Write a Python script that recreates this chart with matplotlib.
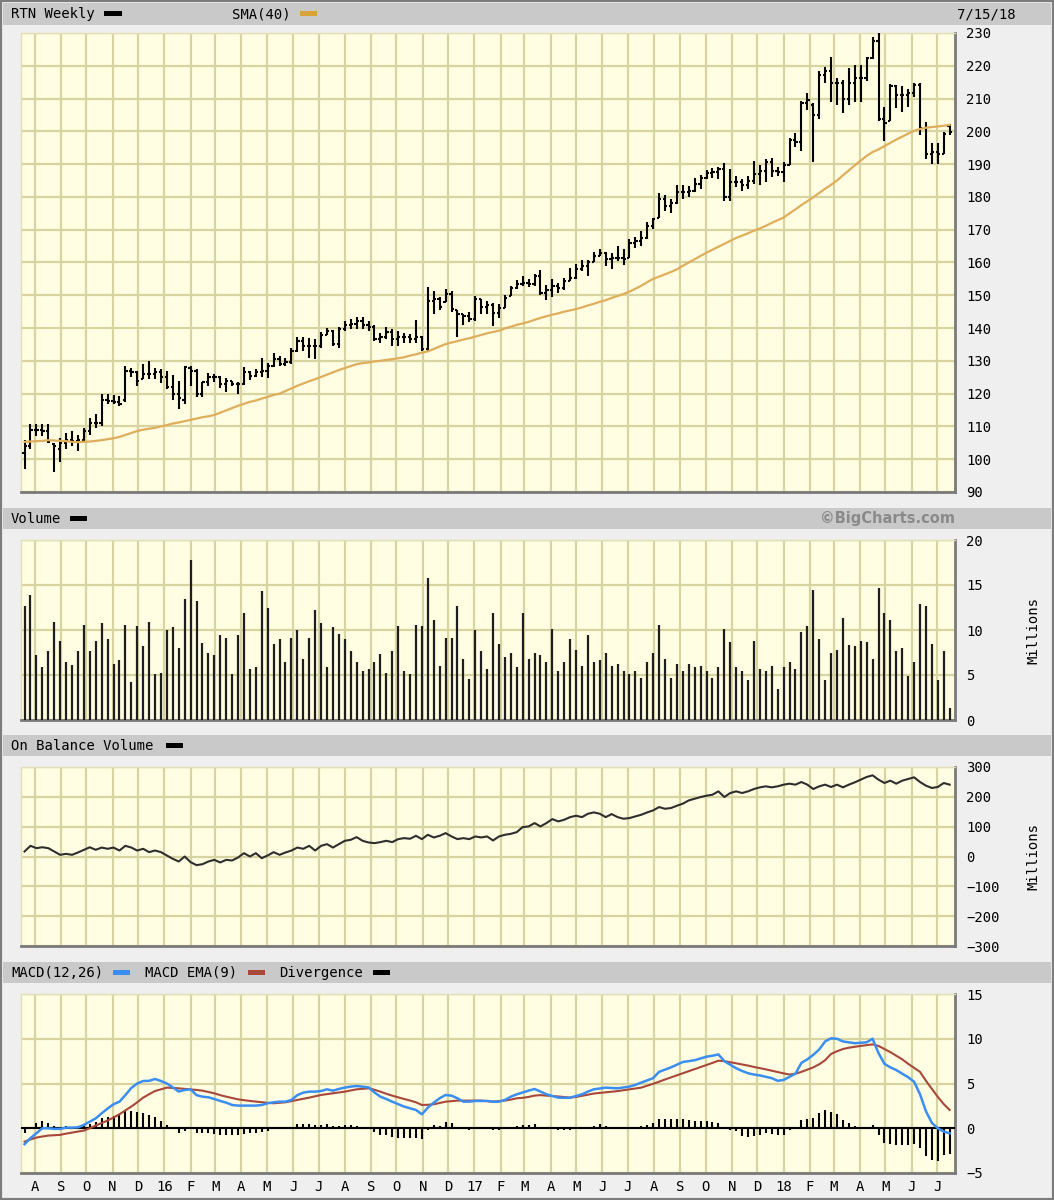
import numpy as np
import pandas as pd
import matplotlib
matplotlib.use("Agg")
import matplotlib.pyplot as plt
import matplotlib.dates as mdates
from matplotlib.collections import LineCollection
from matplotlib.patches import Rectangle

plt.rcParams['font.family'] = ['DejaVu Sans Mono', 'DejaVu Sans']

# weekly bars, week of 2015-07-20 .. week of 2018-07-09
weeks = pd.date_range("2015-07-20", periods=157, freq="7D")

price_open = [
    102, 104, 109, 108.8, 108.5, 104.5, 103, 105, 106, 105.5,
    105.8, 108.6, 111, 111, 118, 117.8, 117.5, 118, 127, 126.5,
    124.6, 126, 126, 126.5, 125, 122, 120, 118, 127.8, 126.8,
    120, 123.4, 125, 125, 123, 123.9, 123, 123, 126.5, 125.5,
    126.5, 127, 128.5, 130.5, 129, 129.5, 133, 136.2, 134.6, 134.6,
    134.6, 138, 139.2, 135.2, 139.8, 140.8, 141.3, 142.3, 140.8, 140.3,
    136.7, 137.2, 138.7, 136.7, 137.2, 137.2, 136.7, 137.2, 133.6, 148.4,
    149, 148, 150.5, 145.4, 144.4, 143.8, 142.8, 149, 146.4, 146.9,
    144.6, 146, 149.7, 152.2, 153.3, 153.8, 153.3, 155.8, 150.7, 151.7,
    152.8, 152.2, 154.3, 155.3, 157.9, 158.9, 160, 162, 163, 161,
    161.5, 161.5, 161.5, 166.1, 166.6, 167.6, 171.2, 173.7, 179.4, 177.3,
    178.3, 181.4, 181.4, 181.9, 184, 185.7, 187.2, 187.5, 188.6, 179.9,
    184.5, 184.5, 183.5, 185, 187, 188, 190.8, 188, 187.6, 189.8,
    197.3, 196.8, 208.5, 208, 205, 217.2, 218.3, 214.7, 214.7, 210,
    214.7, 216.2, 216.2, 222.4, 227.5, 203.9, 203.1, 213.7, 211.1, 211.1,
    211.6, 214.2, 200.9, 193.2, 193.7, 193.2, 201.5]
price_high = [
    106, 110.8, 110.8, 110.8, 110.8, 105, 106.5, 108, 108.6, 107.5,
    109.4, 112.7, 113.7, 120, 120, 119.6, 119.3, 128.3, 127.8, 126.8,
    129, 130, 127.8, 127.5, 127, 125.7, 124, 128.3, 128.3, 127.5,
    123.7, 126.3, 126, 125.4, 124.7, 124, 123.7, 128, 126.8, 127.5,
    131, 129.2, 132.3, 131.6, 131, 134, 137.2, 137.2, 137, 136.7,
    138.7, 140, 139.5, 140.4, 142.3, 142.8, 143.3, 143.3, 142.3, 141,
    138.5, 140.3, 139.8, 139.2, 138.4, 138.2, 142.5, 137.7, 152.5, 151.2,
    149.5, 152, 151.2, 145.4, 144.4, 144.9, 149.8, 149, 148.4, 147.6,
    147.4, 150, 152.8, 154.8, 156, 155, 156.6, 157.6, 153, 155,
    153.6, 155.3, 158.4, 159.4, 160.9, 160.9, 163.2, 164.2, 163.2, 163,
    165, 164, 167.1, 167.9, 169.6, 172.4, 173.7, 181.1, 180.7, 179.4,
    183.5, 183.7, 183.2, 185.7, 186.8, 188.1, 188.8, 189.1, 190.4, 188.6,
    186.5, 185.5, 186.5, 191.1, 189.8, 191.6, 192, 189.1, 190.6, 198.1,
    199.5, 209.3, 211.8, 208.5, 218.3, 219.5, 222.7, 216.2, 215.7, 219.3,
    220.3, 220.1, 222.8, 228.8, 229.9, 207.3, 214.4, 214, 213.7, 213,
    214.7, 214.7, 202.9, 196.6, 196.6, 199.8, 202.1]
price_low = [
    97, 103, 107, 107, 105, 96, 99, 103, 104, 102.5,
    105, 107.5, 109.6, 110, 116.8, 116.8, 116.2, 117.6, 125, 122.2,
    124.6, 124.4, 124.6, 123.2, 121.3, 118, 115.4, 116.7, 122.4, 119,
    119, 122.4, 123.4, 121.6, 120.6, 122.2, 120, 122.6, 124.1, 125,
    125, 124.8, 128, 128.3, 128.3, 129, 132.6, 133, 131, 130.5,
    133.8, 138, 134.4, 134, 139.2, 139.8, 139.8, 139.8, 139.2, 136.2,
    135.4, 136.7, 134.4, 134.6, 135.4, 135.4, 135.5, 133.1, 133.1, 144.2,
    145.4, 148, 145, 137.4, 141, 141.8, 142.3, 144.4, 144.4, 140.7,
    143, 146, 149.7, 152, 152.8, 152.5, 152.8, 150.2, 148.7, 149.5,
    150.7, 151.7, 154.3, 155, 157.4, 155.8, 160, 162, 158.9, 157.9,
    160.4, 159.1, 161.5, 164.5, 165, 167.1, 170.2, 173.7, 175.8, 175.1,
    177.8, 179.4, 179.9, 181.4, 182.4, 185.5, 185.7, 185.5, 178.9, 178.9,
    183, 181.9, 182.4, 184, 183.5, 184.7, 186, 186.5, 184.7, 189.8,
    195.2, 193.9, 206.5, 190.6, 203.9, 214.7, 209, 208, 205.5, 208,
    209, 209, 215.4, 222, 203.3, 197, 203.1, 207.2, 206, 207.5,
    210.6, 199, 191.6, 190.1, 190.1, 193.2, 199]
price_close = [
    104, 109, 108.8, 108.5, 105.3, 104, 105, 106, 105.5, 105.8,
    108.6, 111, 111, 118, 117.8, 117.5, 116.7, 127, 126.5, 124,
    126, 126, 126.5, 125, 121.9, 119.8, 118.8, 128, 126.8, 120,
    123.4, 125, 125, 123, 123.9, 123, 122.9, 126.5, 125.5, 126.5,
    127, 128.5, 130.5, 129, 129.5, 133, 136.2, 134.6, 134.6, 134.6,
    138, 139.2, 135.2, 139.8, 140.8, 141.3, 142.3, 140.8, 140.3, 136.7,
    137.2, 138.7, 136.7, 137.2, 137.2, 136.7, 137.2, 133.6, 148.4, 149,
    146.4, 150.5, 145.9, 144.4, 143.8, 142.8, 149, 146.4, 146.9, 144.6,
    146, 149.2, 152.2, 153.3, 153.8, 153.3, 155.8, 150.7, 151.7, 152.8,
    152.2, 154.3, 155.3, 157.9, 158.9, 160, 162, 163, 161, 161.5,
    161.5, 161, 166.1, 166.6, 167.6, 171.2, 173.2, 179.4, 177.3, 178.3,
    181.4, 181.4, 181.9, 184, 185.7, 187.2, 187.5, 188.6, 179.9, 184.5,
    184.5, 183.5, 185, 187, 188, 190.8, 188, 187.6, 189.6, 197.3,
    196.8, 208.5, 209.6, 205, 217.2, 218.3, 214.7, 214.7, 210, 214.7,
    216.2, 216.2, 222.4, 227.5, 203.9, 202.4, 213.7, 211.1, 211.1, 211.6,
    214.2, 200.9, 193.2, 193.7, 193.2, 199.3, 199.8]
sma40 = [
    105.3, 105.4, 105.5, 105.6, 105.8, 105.7, 105.6, 105.5, 105.3, 105.2,
    105.3, 105.4, 105.6, 105.8, 106.1, 106.4, 106.8, 107.4, 108.0, 108.6,
    109.0, 109.3, 109.6, 110.0, 110.4, 110.9, 111.2, 111.6, 112.0, 112.4,
    112.8, 113.1, 113.5, 114.2, 114.9, 115.6, 116.3, 116.9, 117.5, 117.9,
    118.5, 119.0, 119.6, 120.0, 120.8, 121.6, 122.4, 123.1, 123.8, 124.4,
    125.1, 125.8, 126.5, 127.2, 127.8, 128.4, 129.0, 129.3, 129.5, 129.8,
    130.0, 130.3, 130.5, 130.8, 131.1, 131.6, 132.0, 132.5, 132.9, 133.6,
    134.4, 135.1, 135.6, 136.0, 136.5, 136.9, 137.4, 137.9, 138.4, 138.8,
    139.2, 139.9, 140.4, 141.0, 141.4, 141.9, 142.5, 143.1, 143.6, 144.1,
    144.5, 145.0, 145.4, 145.8, 146.3, 146.9, 147.4, 148.0, 148.5, 149.2,
    149.8, 150.4, 151.1, 152.0, 152.9, 154.0, 155.0, 155.7, 156.4, 157.1,
    157.9, 159.0, 160.0, 161.0, 162.0, 163.0, 163.9, 164.8, 165.7, 166.6,
    167.5, 168.2, 168.9, 169.7, 170.4, 171.2, 172.1, 172.9, 173.7, 175.0,
    176.2, 177.5, 178.7, 179.9, 181.2, 182.5, 183.7, 185.0, 186.6, 188.1,
    189.6, 191.1, 192.5, 193.7, 194.5, 195.5, 196.5, 197.5, 198.4, 199.3,
    200.2, 200.7, 201.1, 201.3, 201.5, 201.7, 202.0]
volume = [  # millions
    12.7, 13.9, 7.2, 5.9, 7.7, 10.9, 8.8, 6.4, 6.1, 7.7,
    10.6, 7.7, 8.8, 10.8, 9.0, 6.2, 6.7, 10.6, 4.2, 10.4,
    8.2, 10.9, 5.1, 5.2, 10.0, 10.3, 8.0, 13.4, 17.8, 13.2,
    8.6, 7.5, 7.2, 9.5, 9.1, 5.1, 9.5, 11.9, 5.7, 5.9,
    14.3, 12.4, 8.5, 9.0, 6.4, 9.1, 10.0, 6.8, 9.1, 12.2,
    10.8, 5.9, 10.3, 9.6, 9.0, 7.7, 6.5, 5.5, 5.7, 6.5,
    7.3, 5.2, 7.7, 10.4, 5.5, 5.1, 10.6, 10.4, 15.8, 11.1,
    6.0, 9.1, 9.1, 12.7, 6.8, 4.6, 10.0, 7.7, 5.7, 11.9,
    8.5, 7.0, 7.5, 5.9, 11.9, 6.8, 7.4, 7.2, 6.4, 10.1,
    5.4, 6.4, 9.0, 7.8, 6.0, 9.5, 6.4, 6.7, 7.4, 6.0,
    6.2, 5.5, 5.1, 5.5, 4.7, 6.5, 7.5, 10.6, 6.8, 4.7,
    6.2, 5.4, 6.2, 5.9, 6.0, 5.5, 4.7, 5.9, 10.1, 8.7,
    5.9, 5.4, 4.4, 8.8, 5.7, 5.5, 6.0, 3.4, 5.9, 6.4,
    5.7, 9.8, 10.4, 14.5, 9.0, 4.4, 7.5, 7.8, 11.3, 8.3,
    8.2, 8.8, 8.7, 6.8, 14.7, 11.9, 11.1, 7.7, 8.0, 4.9,
    6.4, 12.9, 12.7, 8.5, 4.4, 7.7, 1.3]
obv = [  # millions
    16.8, 35.8, 28, 31, 28, 16.8, 5.6, 9, 5.6, 13.4,
    22.4, 31, 22.4, 30, 25.8, 30, 20, 35.8, 30, 20,
    25.8, 14.6, 20, 14.6, 3.4, -7.8, -16.8, 0, -19, -29,
    -25.8, -16.8, -11.2, -20, -11.2, -13.4, -3.4, 11.2, 0, 11.2,
    -5.6, 3.4, 14.6, 5.6, 13.4, 20, 30, 25.8, 35.8, 20,
    35.8, 41.4, 30, 41.4, 52.6, 56, 65, 52.6, 47, 44.8,
    48.2, 52.6, 48.2, 58.2, 61.6, 59.4, 69.4, 58.2, 72.8, 63.8,
    69.4, 78.4, 67.2, 58.2, 61.6, 58.2, 67.2, 63.8, 67.2, 53.8,
    67.2, 72.8, 76, 81.7, 98.5, 100.8, 112, 100.8, 112, 125.4,
    117.6, 123.2, 132, 136.6, 132, 143.3, 147.8, 143.3, 132, 142.2,
    132, 126.5, 128.8, 134.4, 140, 147.8, 154.5, 165.7, 160, 162.4,
    170.2, 177, 188, 193.7, 199.3, 203.8, 207.2, 218.4, 199.3, 212.8,
    218.4, 212.8, 218.4, 226.2, 231.8, 235.2, 231.8, 235.2, 240.8, 244.1,
    240.8, 249.7, 240.8, 226.2, 235.2, 240.8, 233, 240.8, 231.8, 240.8,
    248.6, 257.6, 266.5, 272.1, 257.6, 246.4, 254.2, 244.1, 254.2, 259.8,
    265.4, 249.7, 237.4, 229.6, 233, 246.4, 240.8]
macd = [
    -1.78, -1.1, -0.56, 0, 0, -0.07, -0.07, 0.07, 0.07, 0.1,
    0.37, 0.74, 1.1, 1.67, 2.2, 2.68, 2.97, 3.7, 4.5, 5.0,
    5.28, 5.3, 5.5, 5.28, 5.0, 4.57, 4.1, 4.28, 4.35, 3.7,
    3.53, 3.46, 3.27, 3.05, 2.86, 2.6, 2.53, 2.53, 2.53, 2.53,
    2.6, 2.79, 2.9, 2.97, 2.97, 3.16, 3.7, 3.98, 4.09, 4.09,
    4.16, 4.35, 4.2, 4.39, 4.54, 4.65, 4.72, 4.65, 4.57, 4.0,
    3.53, 3.27, 2.97, 2.7, 2.42, 2.23, 2.04, 1.56, 2.3, 2.86,
    3.35, 3.72, 3.64, 3.35, 2.97, 2.97, 3.05, 3.05, 3.05, 2.97,
    2.97, 3.16, 3.53, 3.79, 4.0, 4.2, 4.39, 4.1, 3.8, 3.6,
    3.42, 3.4, 3.42, 3.6, 3.79, 4.1, 4.35, 4.45, 4.54, 4.5,
    4.46, 4.55, 4.65, 4.85, 5.1, 5.35, 5.6, 6.3, 6.55, 6.8,
    7.1, 7.4, 7.5, 7.6, 7.8, 8.0, 8.1, 8.25, 7.5, 7.1,
    6.7, 6.4, 6.15, 6.0, 5.9, 5.75, 5.6, 5.3, 5.4, 5.75,
    6.1, 7.3, 7.7, 8.2, 8.8, 9.7, 10.05, 10.0, 9.7, 9.6,
    9.5, 9.55, 9.6, 10.0, 8.4, 7.2, 6.8, 6.5, 6.1, 5.7,
    5.2, 3.8, 1.9, 0.6, 0.0, -0.37, -0.56]
macd_ema = [
    -1.49, -1.25, -1.04, -0.92, -0.82, -0.78, -0.74, -0.6, -0.48, -0.37,
    -0.26, 0.0, 0.3, 0.58, 0.86, 1.2, 1.56, 2.0, 2.42, 2.9,
    3.42, 3.8, 4.16, 4.35, 4.54, 4.5, 4.46, 4.4, 4.35, 4.28,
    4.2, 4.05, 3.9, 3.7, 3.53, 3.38, 3.23, 3.14, 3.05, 2.98,
    2.9, 2.84, 2.79, 2.84, 2.9, 3.03, 3.16, 3.3, 3.42, 3.57,
    3.72, 3.81, 3.9, 4.0, 4.09, 4.22, 4.35, 4.4, 4.46, 4.3,
    4.09, 3.85, 3.64, 3.45, 3.27, 3.1, 2.9, 2.6, 2.62, 2.68,
    2.83, 2.97, 3.03, 3.09, 3.09, 3.09, 3.09, 3.09, 3.03, 2.97,
    3.03, 3.09, 3.2, 3.35, 3.4, 3.5, 3.65, 3.7, 3.65, 3.6,
    3.55, 3.48, 3.42, 3.5, 3.62, 3.75, 3.88, 3.95, 4.02, 4.09,
    4.15, 4.25, 4.35, 4.45, 4.54, 4.75, 4.97, 5.2, 5.45, 5.68,
    5.9, 6.13, 6.37, 6.6, 6.83, 7.06, 7.3, 7.55, 7.5, 7.38,
    7.25, 7.13, 7.0, 6.85, 6.72, 6.58, 6.43, 6.28, 6.13, 6.0,
    6.1, 6.3, 6.55, 6.8, 7.15, 7.6, 8.3, 8.6, 8.85, 9.0,
    9.1, 9.2, 9.28, 9.37, 9.2, 8.85, 8.5, 8.1, 7.7, 7.2,
    6.75, 6.3, 5.3, 4.4, 3.5, 2.7, 2.04]
divergence = [
    -0.56, 0.1, 0.56, 0.82, 0.63, 0.3, 0.19, 0.3, 0.19, 0.3,
    0.37, 0.48, 0.74, 1.1, 1.3, 1.37, 1.56, 1.93, 1.97, 1.86,
    1.67, 1.49, 1.23, 0.86, 0.37, 0.0, -0.56, -0.3, -0.05, -0.56,
    -0.56, -0.56, -0.63, -0.74, -0.74, -0.74, -0.74, -0.63, -0.56, -0.48,
    -0.37, -0.26, 0.05, 0.05, 0.05, 0.19, 0.48, 0.52, 0.48, 0.37,
    0.37, 0.48, 0.26, 0.26, 0.37, 0.37, 0.3, 0.19, 0.05, -0.37,
    -0.74, -0.74, -0.93, -1.1, -1.04, -1.04, -1.04, -1.23, -0.19, 0.37,
    0.26, 0.67, 0.56, 0.05, 0.05, -0.19, 0.0, 0.0, 0.0, -0.19,
    -0.15, 0.05, 0.19, 0.3, 0.37, 0.37, 0.48, 0.19, 0.0, -0.1,
    -0.19, -0.19, -0.19, 0.0, 0.1, 0.19, 0.3, 0.48, 0.3, 0.19,
    0.05, 0.05, 0.05, 0.19, 0.3, 0.37, 0.56, 1.0, 1.0, 1.0,
    1.0, 1.04, 0.93, 0.86, 0.86, 0.82, 0.74, 0.56, 0.05, -0.19,
    -0.3, -0.82, -0.93, -0.9, -0.74, -0.56, -0.63, -0.74, -0.74, -0.19,
    0.0, 0.93, 1.0, 1.1, 1.67, 2.0, 1.8, 1.6, 0.93, 0.63,
    0.3, 0.0, 0.19, 0.37, -0.7, -1.67, -1.78, -1.86, -1.86, -1.9,
    -1.8, -2.2, -3.1, -3.6, -3.7, -3.0, -2.9]

for name, arr in [("open", price_open), ("high", price_high), ("low", price_low),
                  ("close", price_close), ("sma", sma40), ("vol", volume), ("obv", obv),
                  ("macd", macd), ("ema", macd_ema), ("div", divergence)]:
    if len(arr) != len(weeks):
        print(name, len(arr))

W, H = 1054, 1200
bg = '#efefef'
plot_bg = '#fffee2'
grid_c = '#d8d4a2'
head_c = '#c9c9c9'

fig = plt.figure(figsize=(W / 100, H / 100), dpi=100, facecolor=bg)


def box(x0, y0, x1, y1):
    return [x0 / W, 1 - y1 / H, (x1 - x0) / W, (y1 - y0) / H]


def fig_rect(x0, y0, x1, y1, color, z=-5):
    fig.add_artist(Rectangle((x0 / W, 1 - y1 / H), (x1 - x0) / W, (y1 - y0) / H,
                             transform=fig.transFigure, facecolor=color,
                             edgecolor='none', zorder=z))


def fig_txt(x, y, s, **kw):
    fig.text(x / W, 1 - y / H, s, va='center', fontsize=10, **kw)


# header bands
for y0, y1 in [(3, 25), (508, 529), (735, 756), (962, 983)]:
    fig_rect(3, y0, 1051, y1, head_c)

# outer frame
fig.add_artist(Rectangle((0, 0), 1, 1, transform=fig.transFigure, fill=False,
                         edgecolor='#7c7c7c', lw=3, zorder=10))

x = mdates.date2num(weeks)
x0 = x[0] - 0.6 * 7
x1 = x[0] + 156.9 * 7
months = pd.date_range("2015-08-01", "2018-07-01", freq="MS")
mx = mdates.date2num(months)
mlabels = [str(m.year)[2:] if m.month == 1 else "JFMAMJJASOND"[m.month - 1] for m in months]

ax_p = fig.add_axes(box(21, 33, 955, 492))
ax_v = fig.add_axes(box(21, 540, 955, 720))
ax_o = fig.add_axes(box(21, 767, 955, 946))
ax_m = fig.add_axes(box(21, 994, 955, 1173))

for ax in (ax_p, ax_v, ax_o, ax_m):
    ax.set_facecolor(plot_bg)
    ax.set_xlim(x0, x1)
    ax.set_xticks(mx)
    ax.yaxis.tick_right()
    ax.grid(True, color=grid_c, lw=1.6, zorder=0)
    ax.set_axisbelow(True)
    ax.tick_params(axis='y', length=0, pad=8, labelsize=10)
    ax.tick_params(axis='x', length=0)
    for s in ('top', 'left'):
        ax.spines[s].set_color('#e2dfb4')
        ax.spines[s].set_linewidth(1)
    for s in ('bottom', 'right'):
        ax.spines[s].set_color('#7a7a7a')
        ax.spines[s].set_linewidth(2)
    if ax is not ax_m:
        ax.set_xticklabels([])

ax_m.set_xticklabels(mlabels)
ax_m.tick_params(axis='x', pad=5, labelsize=10)

# price bars
d = 2.6
segs = []
for xi, o, h, l, c in zip(x, price_open, price_high, price_low, price_close):
    segs.append([(xi, l), (xi, h)])
    segs.append([(xi - d, o), (xi, o)])
    segs.append([(xi, c), (xi + d, c)])
ax_p.add_collection(LineCollection(segs, colors='black', linewidths=1.5, zorder=3))
ax_p.plot(x, sma40, color='#dfae5c', lw=1.6, zorder=4)
ax_p.set_ylim(90, 230)
ax_p.set_yticks(np.arange(90, 231, 10))

# volume
ax_v.vlines(x, 0, volume, color='#1e1e1e', lw=1.6, zorder=3)
ax_v.set_ylim(0, 20)
ax_v.set_yticks([0, 5, 10, 15, 20])

# on balance volume
ax_o.plot(x, obv, color='#2e2e2e', lw=1.5, zorder=3)
ax_o.set_ylim(-300, 300)
ax_o.set_yticks(np.arange(-300, 301, 100))

# macd
ax_m.vlines(x, 0, divergence, color='black', lw=1.5, zorder=3)
ax_m.axhline(0, color='black', lw=1.5, zorder=3)
ax_m.plot(x, macd_ema, color='#a8473a', lw=1.5, zorder=4)
ax_m.plot(x, macd, color='#3a8ef2', lw=1.8, zorder=5)
ax_m.set_ylim(-5, 15)
ax_m.set_yticks([-5, 0, 5, 10, 15])

# header texts and swatches
fig_txt(11, 14, "RTN Weekly")
fig_rect(104, 11, 122, 16, 'black', z=5)
fig_txt(232, 14, "SMA(40)")
fig_rect(300, 11, 317, 16, '#d9a23a', z=5)
fig_txt(1016, 14, "7/15/18", ha='right')

fig_txt(11, 519, "Volume")
fig_rect(70, 516, 87, 521, 'black', z=5)
fig.text(955 / W, 1 - 519 / H, "\u00a9BigCharts.com", va='center', ha='right',
         fontsize=10.5, fontweight='bold', color='#8a8a8a', family='DejaVu Sans')

fig_txt(11, 746, "On Balance Volume")
fig_rect(166, 743, 183, 748, 'black', z=5)

fig_txt(11, 973, "MACD(12,26)")
fig_rect(113, 970, 130, 975, '#3a8ef2', z=5)
fig_txt(145, 973, "MACD EMA(9)")
fig_rect(248, 970, 265, 975, '#a8473a', z=5)
fig_txt(279, 973, "Divergence")
fig_rect(373, 970, 390, 975, 'black', z=5)

fig_txt(1033, 630, "Millions", rotation=90, ha='center')
fig_txt(1033, 857, "Millions", rotation=90, ha='center')

fig.savefig("out.png", dpi=100, facecolor=bg)
